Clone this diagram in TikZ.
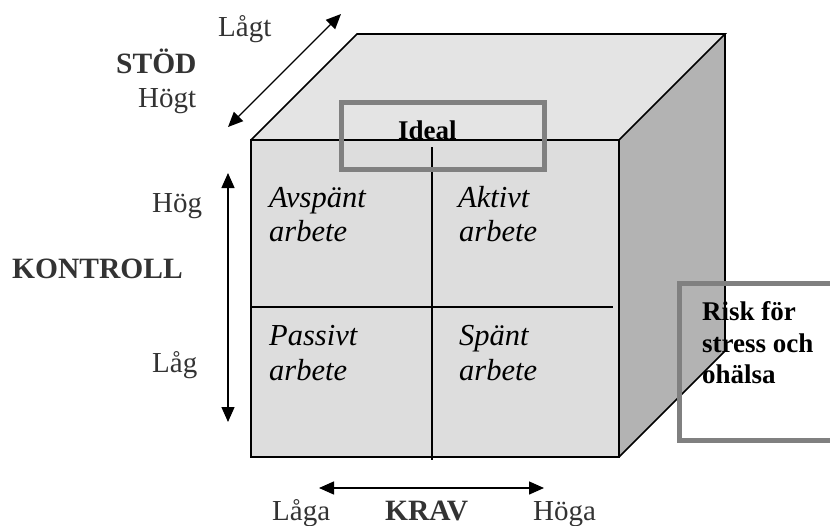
\documentclass[tikz,border=0pt]{standalone}
\usepackage{fontspec}
\setmainfont{Liberation Serif}
\usetikzlibrary{arrows.meta}
\definecolor{lbl}{HTML}{333333}
\definecolor{frontc}{HTML}{DDDDDD}
\definecolor{topc}{HTML}{E4E4E4}
\definecolor{sidec}{HTML}{B3B3B3}
\definecolor{boxc}{HTML}{808080}
\tikzset{
  lab/.style={anchor=base west, inner sep=0pt, text=lbl, font=\fontsize{29}{34}\selectfont},
  blab/.style={lab, font=\fontsize{29.5}{34}\selectfont\bfseries},
  quad/.style={anchor=base west, inner sep=0pt, font=\fontsize{30.5}{34}\selectfont\itshape},
  face/.style={draw=black, line width=1.6pt, line join=miter},
  dbl/.style={line width=1.4pt, {Triangle[length=15pt,width=13pt]}-{Triangle[length=15pt,width=13pt]}},
  graybox/.style={draw=boxc, line width=5pt},
  boldtxt/.style={anchor=base west, inner sep=0pt, font=\fontsize{27}{31}\selectfont\bfseries},
}
\begin{document}
\begin{tikzpicture}[x=1pt,y=-1pt]
\clip (0,0) rectangle (830,525);
% cube
\coordinate (FTL) at (251,140);
\coordinate (FTR) at (619,140);
\coordinate (FBR) at (619,457);
\coordinate (FBL) at (251,457);
\coordinate (BTL) at (357,34);
\coordinate (BTR) at (725,34);
\coordinate (BBR) at (725,351);
\fill[topc] (FTL) -- (BTL) -- (BTR) -- (FTR) -- cycle;
\fill[sidec] (FTR) -- (BTR) -- (BBR) -- (FBR) -- cycle;
\fill[frontc] (FTL) rectangle (FBR);
\draw[face] (FTL) -- (BTL) -- (BTR) -- (FTR);
\draw[face] (BTR) -- (BBR) -- (FBR);
\draw[face] (FTL) rectangle (FBR);
% dividers
\coordinate (VT) at (432,147);
\coordinate (VB) at (432,460);
\coordinate (HL) at (251,307);
\coordinate (HR) at (613,307);
\draw[line width=1.4pt] (VT) -- (VB);
\draw[line width=1.4pt] (HL) -- (HR);
% Ideal box
\draw[graybox] (341.5,102.5) rectangle (544.5,169.5);
\node[boldtxt] (ideal) at (398,139) {Ideal};
% Risk box
\draw[graybox] (679.5,283.5) rectangle (850,440.5);
\node[boldtxt] (risk1) at (702,320) {Risk för};
\node[boldtxt] (risk2) at (702,352) {stress och};
\node[boldtxt] (risk3) at (702,383) {ohälsa};
% quadrant labels
\node[quad] (q1a) at (269,207) {Avspänt};
\node[quad] (q1b) at (269,241) {arbete};
\node[quad] (q2a) at (458,207) {Aktivt};
\node[quad] (q2b) at (459,241) {arbete};
\node[quad] (q3a) at (269,345) {Passivt};
\node[quad] (q3b) at (269,380) {arbete};
\node[quad] (q4a) at (459,345) {Spänt};
\node[quad] (q4b) at (459,380) {arbete};
% axis labels
\node[lab] (lagt) at (218,36) {Lågt};
\node[blab] (stod) at (116,73) {STÖD};
\node[lab] (hogt) at (138,107) {Högt};
\node[lab] (hog) at (152,212) {Hög};
\node[blab] (kontroll) at (12,278) {KONTROLL};
\node[lab] (lag) at (152,372) {Låg};
\node[lab] (laga) at (272,520) {Låga};
\node[blab] (krav) at (385,520) {KRAV};
\node[lab] (hoga) at (533,520) {Höga};
% arrows
\coordinate (sA) at (228,127);
\coordinate (sB) at (341,14);
\coordinate (kA) at (228,173);
\coordinate (kB) at (228,422);
\coordinate (rA) at (319,488);
\coordinate (rB) at (544,488);
\draw[dbl] (sA) -- (sB);
\draw[dbl] (kA) -- (kB);
\draw[dbl] (rA) -- (rB);
\end{tikzpicture}
\end{document}
